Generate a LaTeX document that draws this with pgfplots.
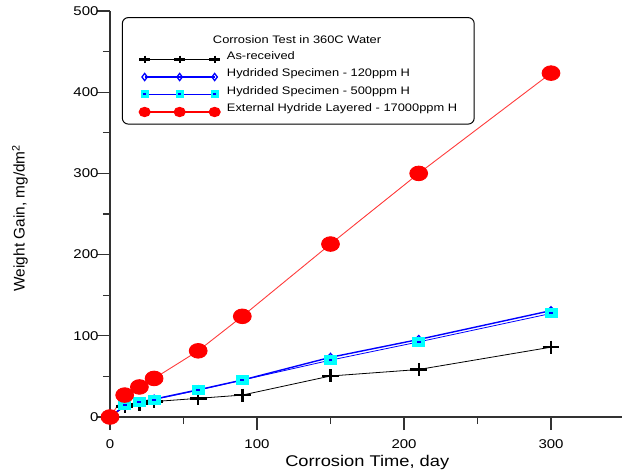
\documentclass[border=0pt]{standalone}
\usepackage{fontspec}
\setmainfont{Liberation Sans}[FakeStretch=1.18]
\newfontfamily\plainsans{Liberation Sans}
\usepackage{pgfplots}
\pgfplotsset{compat=1.18}

\definecolor{axgray}{RGB}{50,50,50}
\definecolor{redline}{RGB}{255,60,60}
\definecolor{sqcyan}{RGB}{0,255,255}

% cyan square with a small blue dot in the middle
\pgfdeclareplotmark{sqdot}{%
  \pgfpathrectangle{\pgfqpoint{-\pgfplotmarksize}{-\pgfplotmarksize}}{\pgfqpoint{2\pgfplotmarksize}{2\pgfplotmarksize}}%
  \pgfsetfillcolor{sqcyan}\pgfusepathqfill
  \pgfpathrectangle{\pgfqpoint{-0.3\pgfplotmarksize}{-0.2\pgfplotmarksize}}{\pgfqpoint{0.6\pgfplotmarksize}{0.4\pgfplotmarksize}}%
  \pgfsetfillcolor{blue}\pgfusepathqfill}

\begin{document}
\begin{tikzpicture}
\begin{axis}[
    scale only axis,
    width=514.5pt, height=406pt,
    xmin=0, xmax=350, ymin=0, ymax=500,
    axis x line*=bottom, axis y line*=left,
    axis line style={axgray, line width=1.2pt},
    xtick={0,100,200,300}, ytick={0,100,...,500},
    minor x tick num=1, minor y tick num=1,
    tick align=outside,
    major tick length=13pt, minor tick length=7pt,
    every tick/.style={axgray, line width=1.2pt},
    ticklabel style={font=\fontsize{12.7}{14}\selectfont},
    x tick label style={yshift=-6pt},
    y tick label style={xshift=5pt},
    /pgf/number format/assume math mode=true,
    clip=false,
    xlabel={Corrosion Time, day},
    ylabel={Weight Gain, mg/dm\textsuperscript{2}},
    x label style={at={(axis description cs:0.5,-0.111)}, anchor=center,
        font=\fontsize{15.5}{17}\selectfont},
    y label style={at={(axis description cs:-0.175,0.49)}, anchor=center,
        font=\plainsans\fontsize{15.4}{17}\selectfont},
    legend cell align=left,
    legend image code/.code={%
        \draw[#1] plot coordinates {(0pt,0pt) (35pt,0pt) (70pt,0pt)};},
    legend style={at={(axis description cs:0.023,0.985)}, anchor=north west,
        draw=black, line width=1pt, rounded corners=6pt,
        font=\fontsize{10.9}{13}\selectfont,
        inner xsep=17pt, inner ysep=7.7pt,
        column sep=7pt, row sep=5.7pt,
        nodes={inner sep=0pt, anchor=base west, text height=8pt, text depth=2.5pt}},
]
\addlegendimage{empty legend}
\addlegendentry[text height=18pt]{\hspace{-14pt}Corrosion Test in 360C Water}
\addlegendimage{black, line width=1.3pt, mark=+, mark size=3.8pt,
    mark options={line width=2.1pt, xscale=1.4}}
\addlegendentry{As-received}
\addlegendimage{blue, line width=1.5pt, mark=diamond, mark size=3.6pt,
    mark options={line width=1.3pt, fill=white}}
\addlegendentry{Hydrided Specimen - 120ppm H}
\addlegendimage{blue, line width=1.3pt, mark=sqdot, mark size=4pt}
\addlegendentry{Hydrided Specimen - 500ppm H}
\addlegendimage{red, line width=1.5pt, mark=*, mark size=4.4pt,
    mark options={red, xscale=1.2}}
\addlegendentry{External Hydride Layered - 17000ppm H}

% As-received
\addplot[forget plot, black, line width=0.8pt, mark=+, mark size=6.5pt,
    mark options={line width=2.4pt, xscale=1.3}]
    coordinates {(0,0)(10,13)(20,16)(30,19)(60,23)(90,27)(150,50.5)(210,58.5)(300,86)};
% Hydrided Specimen - 120ppm H
\addplot[forget plot, blue, line width=1.4pt, mark=diamond, mark size=4pt,
    mark options={line width=1.2pt, xscale=1.2, fill=white}]
    coordinates {(0,0)(10,14)(20,18.5)(30,22)(60,33.5)(90,45.5)(150,73.5)(210,95.5)(300,131)};
% Hydrided Specimen - 500ppm H
\addplot[forget plot, blue, line width=0.8pt, mark=sqdot, mark size=5pt,
    mark options={xscale=1.3}]
    coordinates {(0,0)(10,14.5)(20,18.5)(30,21.5)(60,33)(90,45.5)(150,70)(210,92.5)(300,127.5)};
% External Hydride Layered - 17000ppm H
\addplot[forget plot, redline, line width=0.9pt, mark=*, mark size=7.3pt,
    mark options={red, xscale=1.22}]
    coordinates {(0,0)(10,27)(20,37)(30,47.5)(60,81.5)(90,124)(150,213)(210,300)(300,423.5)};

\coordinate (sw) at (rel axis cs:0,0);
\coordinate (ne) at (rel axis cs:1,1);
\end{axis}
\pgfresetboundingbox
\path[use as bounding box] ([shift={(-110pt,-57pt)}]sw) rectangle ([shift={(-2.5pt,11pt)}]ne);
\end{tikzpicture}
\end{document}
